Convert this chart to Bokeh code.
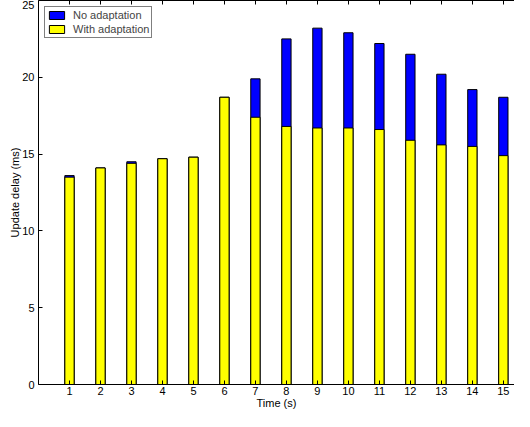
from bokeh.plotting import figure
from bokeh.models import LinearAxis, Range1d, FixedTicker, Legend, LegendItem, ColumnDataSource, CustomJSTickFormatter
from bokeh.embed import file_html
from bokeh.resources import INLINE

time_s = [1, 2, 3, 4, 5, 6, 7, 8, 9, 10, 11, 12, 13, 14, 15]
no_adaptation = [13.6, 14.1, 14.5, 14.7, 14.8, 18.7, 19.9, 22.5, 23.2, 22.9, 22.2, 21.5, 20.2, 19.2, 18.7]
with_adaptation = [13.5, 14.1, 14.4, 14.7, 14.8, 18.7, 17.4, 16.8, 16.7, 16.7, 16.6, 15.9, 15.6, 15.5, 14.9]
x_ticks = list(range(1, 16))
y_ticks = [0, 5, 10, 15, 20, 25]

FONT = "Liberation Sans"

src = ColumnDataSource(dict(x=time_s, na=no_adaptation, wa=with_adaptation))

# the reference's axes run 0..16 but are cropped at the right edge of the image
p = figure(width=514, height=411, output_backend="svg", toolbar_location=None,
           x_range=Range1d(0, 15.36), y_range=Range1d(0, 25),
           min_border_left=38, min_border_right=0, min_border_top=0, min_border_bottom=0)
p.background_fill_color = "white"
p.border_fill_color = "white"
p.outline_line_color = None
p.xgrid.visible = False
p.ygrid.visible = False

r_na = p.vbar(x="x", top="na", bottom=0, width=0.3, source=src,
              fill_color="#0000ff", line_color="black", line_width=1)
r_wa = p.vbar(x="x", top="wa", bottom=0, width=0.3, source=src,
              fill_color="#ffff00", line_color="black", line_width=1)

def style_axis(ax):
    ax.axis_line_color = "black"
    ax.axis_line_width = 1
    ax.major_tick_in = 4
    ax.major_tick_out = 0
    ax.minor_tick_line_color = None
    ax.major_tick_line_color = "black"
    ax.major_label_text_font = FONT
    ax.major_label_text_font_size = "11px"
    ax.major_label_text_color = "black"
    ax.axis_label_text_font = FONT
    ax.axis_label_text_font_size = "11px"
    ax.axis_label_text_font_style = "normal"
    ax.axis_label_text_color = "black"

xa = p.xaxis[0]
xa.ticker = FixedTicker(ticks=x_ticks)
xa.axis_label = "Time (s)"
style_axis(xa)
xa.axis_label_standoff = -1
xa.major_label_standoff = 2

ya = p.yaxis[0]
ya.ticker = FixedTicker(ticks=y_ticks)
ya.axis_label = "Update delay (ms)"
style_axis(ya)
ya.axis_label_standoff = -2
ya.major_label_standoff = 4

top = LinearAxis(ticker=FixedTicker(ticks=x_ticks),
                 formatter=CustomJSTickFormatter(code="return ''"))
style_axis(top)
top.major_label_standoff = 0
p.add_layout(top, "above")

legend = Legend(items=[LegendItem(label="No adaptation", renderers=[r_na]),
                       LegendItem(label="With adaptation", renderers=[r_wa])],
                location="top_left")
legend.label_text_font = FONT
legend.label_text_font_size = "11px"
legend.label_height = 11
legend.glyph_height = 10
legend.glyph_width = 19
legend.spacing = 2
legend.padding = 2
legend.margin = 6
legend.label_standoff = 7
legend.border_line_color = "black"
legend.border_line_width = 1
legend.background_fill_alpha = 1
p.add_layout(legend)

open("out.html", "w").write(file_html(p, INLINE))
